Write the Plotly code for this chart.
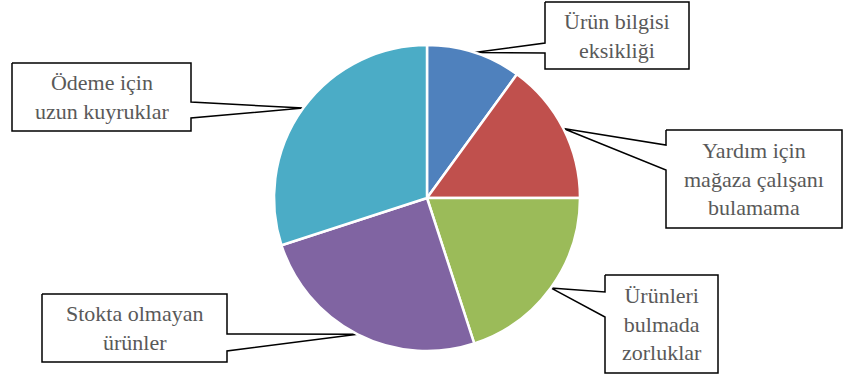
import math
import plotly.graph_objects as go

labels = ["Ürün bilgisi<br>eksikliği",
          "Yardım için<br>mağaza çalışanı<br>bulamama",
          "Ürünleri<br>bulmada<br>zorluklar",
          "Stokta olmayan<br>ürünler",
          "Ödeme için<br>uzun kuyruklar"]
values = [10, 15, 20, 25, 30]
colors = ["#4F81BD", "#C0504D", "#9BBB59", "#8064A2", "#4BACC6"]

W, H = 845, 376
CX, CY, R = 427, 198, 153
FONT = "Liberation Serif"

# callout box layout (px): x0, y0, x1, y1, side of wedge, wedge base ya, yb
boxes = [
    (545, 2, 689, 69, "left", 43, 53),
    (666, 130, 842, 228, "left", 145, 170),
    (605, 275, 718, 373, "left", 292, 317),
    (42, 294, 227, 362, "right", 334, 351),
    (12, 63, 191, 131, "right", 102, 118),
]

fig = go.Figure()

total = sum(values)
cum = 0
for lab, v, b in zip(labels, values, boxes):
    mid = (cum + v / 2) / total * 2 * math.pi
    cum += v
    tx, ty = CX + R * math.sin(mid), CY - R * math.cos(mid)
    x0, y0, x1, y1, side, ya, yb = b
    if side == "left":
        pts = [(x0, y0), (x1, y0), (x1, y1), (x0, y1), (x0, yb), (tx, ty), (x0, ya), (x0, y0)]
    else:
        pts = [(x0, y0), (x1, y0), (x1, ya), (tx, ty), (x1, yb), (x1, y1), (x0, y1), (x0, y0)]
    fig.add_trace(go.Scatter(x=[p[0] for p in pts], y=[p[1] for p in pts], mode="lines",
                             fill="toself", fillcolor="white",
                             line=dict(color="black", width=1.5),
                             hoverinfo="skip", showlegend=False))

fig.add_trace(go.Pie(
    values=values, sort=False,
    direction="clockwise", rotation=0, textinfo="none", hoverinfo="value",
    marker=dict(colors=colors, line=dict(color="white", width=2.5)),
    domain=dict(x=[(CX - R) / W, (CX + R) / W], y=[1 - (CY + R) / H, 1 - (CY - R) / H]),
    showlegend=False,
))

for lab, b in zip(labels, boxes):
    x0, y0, x1, y1 = b[:4]
    fig.add_annotation(x=(x0 + x1) / 2, y=(y0 + y1) / 2, xref="x", yref="y", text=lab,
                       showarrow=False, xanchor="center", yanchor="middle", align="center",
                       font=dict(family=FONT, size=22, color="#595959"))

fig.update_layout(width=W, height=H, margin=dict(l=0, r=0, t=0, b=0),
                  paper_bgcolor="white", plot_bgcolor="white",
                  xaxis=dict(range=[0, W], visible=False, fixedrange=True, domain=[0, 1]),
                  yaxis=dict(range=[H, 0], visible=False, fixedrange=True, domain=[0, 1]))
fig.write_html("out.html")
